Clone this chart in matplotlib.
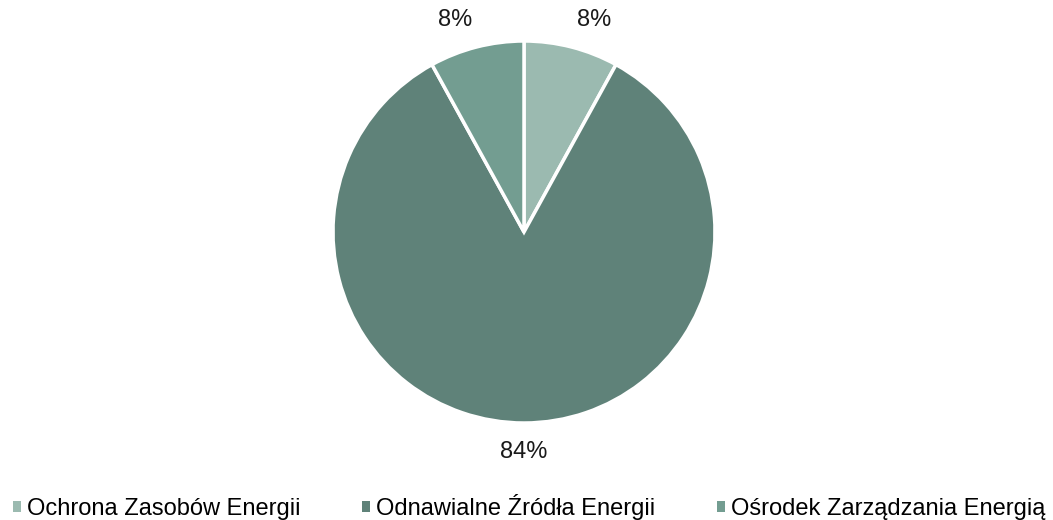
import matplotlib.pyplot as plt
from matplotlib.patches import Patch

plt.rcParams["font.family"] = ["Liberation Sans", "DejaVu Sans"]

categories = ["Ochrona Zasobów Energii", "Odnawialne Źródła Energii", "Ośrodek Zarządzania Energią"]
shares = [8, 84, 8]
labels = ["8%", "84%", "8%"]
colors = ["#9BBAB0", "#5F8279", "#739D91"]
# label positions in pie data units (Excel "outside end" placement)
label_pos = [(0.366, 1.11), (0.0, -1.152), (-0.361, 1.11)]

fig = plt.figure(figsize=(10.53, 5.2), dpi=100)
ax = fig.add_axes([333 / 1053, 97 / 520, 382 / 1053, 382 / 520])

wedges, _ = ax.pie(shares, colors=colors, startangle=90, counterclock=False,
                   wedgeprops={"edgecolor": "white", "linewidth": 2.5})
ax.set_xlim(-1, 1)
ax.set_ylim(-1, 1)
ax.set_aspect("equal")

for (x, y), lab in zip(label_pos, labels):
    ax.text(x, y, lab, ha="center", va="center", fontsize=17, color="#1a1a1a")

handles = [Patch(facecolor=c, edgecolor="none") for c in colors]
fig.legend(handles, categories, loc="center", bbox_to_anchor=(529 / 1053, 1 - 507 / 520),
           ncol=3, frameon=False, fontsize=17, handlelength=0.34, handleheight=0.34,
           handletextpad=0.25, columnspacing=2.62)

fig.savefig("out.png", dpi=100)
